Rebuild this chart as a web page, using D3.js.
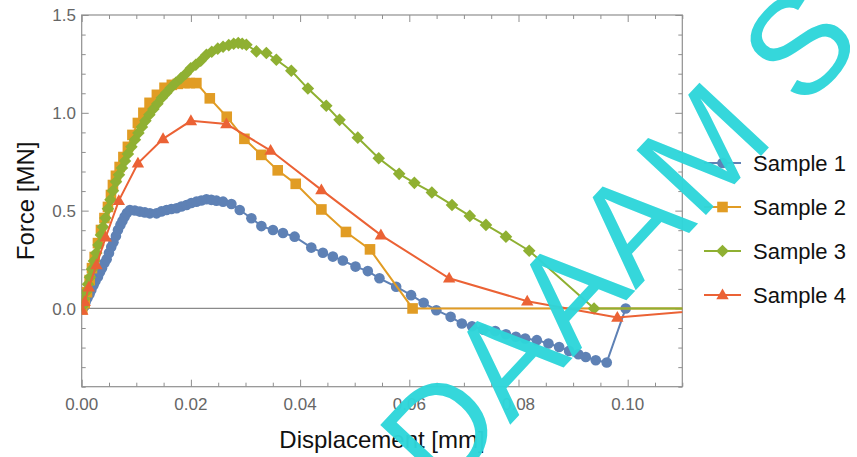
<!DOCTYPE html>
<html><head><meta charset="utf-8">
<script src="https://cdn.jsdelivr.net/npm/d3@7/dist/d3.min.js"></script>
<style>body{margin:0;background:#fff}svg{display:block}</style>
</head><body><svg id="c" width="857" height="457"></svg>
<script>
const seriesNames = ["Sample 1","Sample 2","Sample 3","Sample 4"];
const xTicks = [0,0.02,0.04,0.06,0.08,0.10];
const xTickLabels = ["0.00","0.02","0.04","0.06","0.08","0.10"];
const yTicks = [0,0.5,1.0,1.5];
const yTickLabels = ["0.0","0.5","1.0","1.5"];

const s1Disp = [0.0001,0.00042,0.0007,0.00106,0.00143,0.00176,0.00216,0.00252,0.00298,0.00335,0.00371,0.00417,0.00457,0.00499,0.00541,0.00581,0.00627,0.00664,0.00709,0.00746,0.00786,0.00828,0.00883,0.00974,0.01066,0.01157,0.01249,0.01371,0.01459,0.01554,0.01642,0.01737,0.01825,0.0192,0.02007,0.02102,0.0219,0.02285,0.02373,0.02468,0.02589,0.02742,0.02894,0.03108,0.03291,0.03503,0.03686,0.039,0.04205,0.04417,0.046,0.04783,0.05015,0.0524,0.05453,0.05759,0.06033,0.06263,0.06495,0.06757,0.06962,0.07148,0.07355,0.07574,0.0777,0.07952,0.08122,0.08336,0.08548,0.08744,0.08927,0.09097,0.09232,0.09415,0.09616,0.09963];
const s1Force = [-0.004,0.009,0.032,0.053,0.073,0.094,0.119,0.140,0.162,0.186,0.206,0.232,0.252,0.283,0.314,0.339,0.370,0.401,0.427,0.447,0.469,0.488,0.503,0.501,0.495,0.491,0.486,0.486,0.496,0.503,0.508,0.512,0.521,0.529,0.539,0.546,0.552,0.558,0.555,0.551,0.546,0.534,0.503,0.461,0.421,0.401,0.386,0.367,0.311,0.285,0.265,0.245,0.214,0.191,0.154,0.111,0.068,0.029,-0.009,-0.043,-0.077,-0.091,-0.108,-0.115,-0.132,-0.145,-0.154,-0.162,-0.179,-0.197,-0.217,-0.234,-0.248,-0.265,-0.276,0.0];

const s2Disp = [0.0001,0.00055,0.00097,0.00146,0.00188,0.00238,0.00298,0.00353,0.00417,0.00481,0.00536,0.00572,0.00627,0.00695,0.00764,0.00846,0.00929,0.01029,0.0113,0.01243,0.01377,0.01517,0.01651,0.0176,0.01883,0.0198,0.0210,0.02346,0.02656,0.0298,0.0329,0.0359,0.0392,0.0439,0.0484,0.0528,0.0606,0.118];
const s2Force = [-0.005,0.027,0.083,0.145,0.206,0.263,0.334,0.401,0.462,0.519,0.580,0.631,0.678,0.723,0.774,0.826,0.887,0.948,1.000,1.051,1.092,1.128,1.143,1.148,1.152,1.152,1.152,1.074,0.980,0.867,0.785,0.706,0.637,0.506,0.391,0.302,0.0,0.0];

const s3Disp = [0.00015,0.00042,0.00079,0.00115,0.00152,0.00188,0.00225,0.00267,0.00307,0.00353,0.00389,0.00435,0.00481,0.00527,0.00572,0.00627,0.00682,0.00737,0.00792,0.00846,0.0091,0.00974,0.01038,0.01102,0.01166,0.01239,0.01313,0.01386,0.01468,0.0155,0.01633,0.01724,0.01816,0.01907,0.01998,0.0209,0.02181,0.02285,0.02382,0.02492,0.02589,0.02693,0.02784,0.02867,0.0294,0.03016,0.032,0.03382,0.03565,0.03839,0.04143,0.04479,0.04722,0.05057,0.0544,0.05814,0.06093,0.06413,0.06782,0.07108,0.07404,0.0777,0.08196,0.09384,0.118];
const s3Force = [0.012,0.048,0.084,0.124,0.160,0.201,0.242,0.283,0.324,0.375,0.416,0.462,0.509,0.555,0.601,0.647,0.683,0.718,0.754,0.790,0.826,0.862,0.897,0.928,0.959,0.990,1.020,1.046,1.077,1.102,1.128,1.154,1.177,1.200,1.228,1.246,1.266,1.297,1.312,1.328,1.338,1.346,1.353,1.357,1.353,1.348,1.314,1.306,1.271,1.215,1.124,1.036,0.964,0.873,0.768,0.688,0.642,0.593,0.529,0.473,0.427,0.367,0.295,0.0,0.0];

const s4Disp = [0.0001,0.00055,0.0013,0.0027,0.0044,0.0068,0.0103,0.0149,0.0200,0.0265,0.0346,0.0439,0.0548,0.0673,0.0816,0.0981,0.118];
const s4Force = [-0.01,0.034,0.108,0.222,0.364,0.551,0.742,0.867,0.959,0.943,0.807,0.606,0.375,0.154,0.037,-0.046,0.0];

const colors = ["#5E81B5","#E19C24","#8FB032","#EB6235"];
const shapes = ["circle","square","diamond","triangle"];
const series = [[s1Disp,s1Force],[s2Disp,s2Force],[s3Disp,s3Force],[s4Disp,s4Force]];

const svg = d3.select("#c");
const L=81.7, R=682.3, T=15, B=386.7;
const x = d3.scaleLinear().domain([0,0.11]).range([L,R]);
const y = d3.scaleLinear().domain([-0.4,1.5]).range([B,T]);
const frameColor="#8f8f8f", labelColor="#666";

svg.append("defs").append("clipPath").attr("id","clip")
  .append("rect").attr("x",L).attr("y",T).attr("width",R-L).attr("height",B-T);

svg.append("line").attr("x1",L).attr("x2",R).attr("y1",y(0)).attr("y2",y(0))
  .attr("stroke","#8a8a8a").attr("stroke-width",1.2);

const xMinor = d3.range(0,0.1101,0.005).filter(v=>Math.abs(Math.round(v*50)-v*50)>1e-6);
const yMinor = d3.range(-0.4,1.5001,0.1).filter(v=>Math.abs(Math.round(v*2)-v*2)>1e-6);
function axisG(axisFn, scale, vals, len, tx, ty){
  const g = svg.append("g").attr("transform",`translate(${tx},${ty})`)
    .call(axisFn(scale).tickValues(vals).tickSize(len).tickFormat(""));
  g.select(".domain").remove();
  g.selectAll("line").attr("stroke",frameColor).attr("stroke-width",1);
  return g;
}
axisG(d3.axisTop, x, xTicks, 7, 0, B);
axisG(d3.axisTop, x, xMinor, 4, 0, B);
axisG(d3.axisBottom, x, xTicks, 7, 0, T);
axisG(d3.axisBottom, x, xMinor, 4, 0, T);
axisG(d3.axisRight, y, yTicks, 7, L, 0);
axisG(d3.axisRight, y, yMinor, 4, L, 0);
axisG(d3.axisLeft, y, yTicks, 7, R, 0);
axisG(d3.axisLeft, y, yMinor, 4, R, 0);

svg.append("rect").attr("x",L).attr("y",T).attr("width",R-L).attr("height",B-T)
  .attr("fill","none").attr("stroke",frameColor).attr("stroke-width",1.2);

svg.append("g").selectAll("text").data(xTicks).join("text")
  .attr("x",d=>x(d)).attr("y",410).attr("text-anchor","middle")
  .attr("font-family","Liberation Sans, Arial, sans-serif").attr("font-size",17)
  .attr("fill",labelColor).text((d,i)=>xTickLabels[i]);
svg.append("g").selectAll("text").data(yTicks).join("text")
  .attr("x",76).attr("y",d=>y(d)).attr("dy","0.36em").attr("text-anchor","end")
  .attr("font-family","Liberation Sans, Arial, sans-serif").attr("font-size",17)
  .attr("fill",labelColor).text((d,i)=>yTickLabels[i]);

svg.append("text").attr("x",(L+R)/2).attr("y",448).attr("text-anchor","middle")
  .attr("font-family","Liberation Sans, Arial, sans-serif").attr("font-size",24)
  .attr("fill","#111").text("Displacement [mm]");
svg.append("text").attr("transform",`translate(34,${(T+B)/2}) rotate(-90)`)
  .attr("text-anchor","middle")
  .attr("font-family","Liberation Sans, Arial, sans-serif").attr("font-size",24)
  .attr("fill","#111").text("Force [MN]");

function marker(sel, shape, color){
  if(shape==="circle") sel.append("circle").attr("r",5.3).attr("fill",color);
  else if(shape==="square") sel.append("rect").attr("x",-5.3).attr("y",-5.3).attr("width",10.6).attr("height",10.6).attr("fill",color);
  else if(shape==="diamond") sel.append("path").attr("d","M0,-6.3L6.3,0L0,6.3L-6.3,0Z").attr("fill",color);
  else sel.append("path").attr("d","M0,-6.5L6.2,4.3L-6.2,4.3Z").attr("fill",color);
}

const plot = svg.append("g").attr("clip-path","url(#clip)");
series.forEach((s,i)=>{
  const pts = s[0].map((d,j)=>[d,s[1][j]]);
  plot.append("path").datum(pts)
    .attr("d",d3.line().x(d=>x(d[0])).y(d=>y(d[1])))
    .attr("fill","none").attr("stroke",colors[i]).attr("stroke-width",2);
  plot.append("g").selectAll("g").data(pts).join("g")
    .attr("transform",d=>`translate(${x(d[0])},${y(d[1])})`)
    .each(function(){ marker(d3.select(this), shapes[i], colors[i]); });
});

const legY = [163,207,251,295];
seriesNames.forEach((n,i)=>{
  const g = svg.append("g").attr("transform",`translate(0,${legY[i]})`);
  g.append("line").attr("x1",704).attr("x2",741).attr("stroke",colors[i]).attr("stroke-width",2);
  const m = g.append("g").attr("transform","translate(722.5,0)");
  marker(m, shapes[i], colors[i]);
  g.append("text").attr("x",753).attr("y",0).attr("dy","0.36em")
    .attr("font-family","Liberation Sans, Arial, sans-serif").attr("font-size",22)
    .attr("fill","#111").text(n);
});

// watermark
svg.append("text").attr("transform","translate(442,498) rotate(-47)")
  .attr("font-family","Liberation Sans, Arial, sans-serif").attr("font-size",138)
  .attr("fill","#2fd6da").attr("opacity",0.97).text("DAAAM S");
</script></body></html>
